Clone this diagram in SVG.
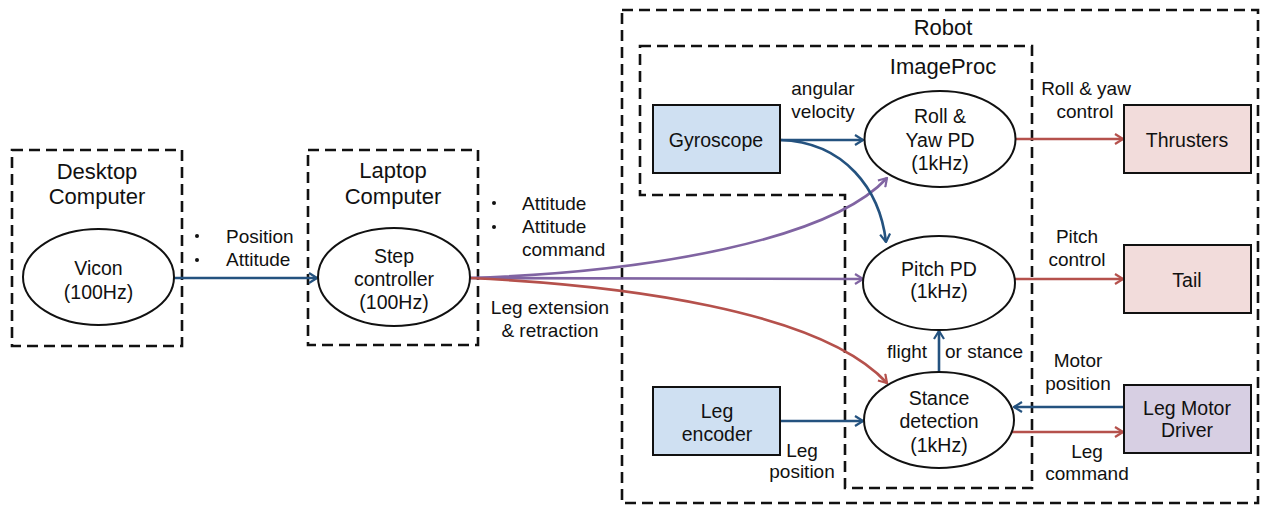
<svg xmlns="http://www.w3.org/2000/svg" width="1267" height="506" viewBox="0 0 1267 506">
<style>
text{font-family:"Liberation Sans",Arial,sans-serif;fill:#111;text-anchor:middle}
.t{font-size:22px}
.n{font-size:19.5px}
.l{font-size:19px}
.st{text-anchor:start}
.dash{fill:none;stroke:#111;stroke-width:2.6;stroke-dasharray:11 6}
.ell{fill:#fff;stroke:#111;stroke-width:2}
.box{stroke:#111;stroke-width:2}
.b{fill:none;stroke:#24527f;stroke-width:2.6}
.r{fill:none;stroke:#b5514c;stroke-width:2.6}
.p{fill:none;stroke:#8064a2;stroke-width:2.6}
</style>
<defs>
<marker id="mb" viewBox="0 0 10 12" refX="9" refY="6" markerWidth="10" markerHeight="12" markerUnits="userSpaceOnUse" orient="auto"><path d="M1,1 L9,6 L1,11" fill="none" stroke="#24527f" stroke-width="2.2"/></marker>
<marker id="mr" viewBox="0 0 10 12" refX="9" refY="6" markerWidth="10" markerHeight="12" markerUnits="userSpaceOnUse" orient="auto"><path d="M1,1 L9,6 L1,11" fill="none" stroke="#b5514c" stroke-width="2.2"/></marker>
<marker id="mp" viewBox="0 0 10 12" refX="9" refY="6" markerWidth="10" markerHeight="12" markerUnits="userSpaceOnUse" orient="auto"><path d="M1,1 L9,6 L1,11" fill="none" stroke="#8064a2" stroke-width="2.2"/></marker>
</defs>

<g id="robot">
<rect class="dash" x="622" y="10" width="636" height="493"/>
<text class="t" x="943" y="35">Robot</text>
</g>
<g id="imageproc">
<path class="dash" d="M640,46 H1032 V488 H845 V195 H640 Z"/>
<text class="t" x="943" y="74">ImageProc</text>
</g>
<g id="desktop">
<rect class="dash" x="12" y="150" width="170" height="196"/>
<text class="t" x="97" y="179">Desktop</text>
<text class="t" x="97" y="204">Computer</text>
</g>
<g id="laptop">
<rect class="dash" x="308" y="150" width="170" height="195"/>
<text class="t" x="393" y="178">Laptop</text>
<text class="t" x="393" y="204">Computer</text>
</g>

<g id="connectors">
<line class="b" x1="174" y1="278" x2="317" y2="278" marker-end="url(#mb)"/>
<path class="p" d="M470,278 C650,272 830,240 887,178" marker-end="url(#mp)"/>
<line class="p" x1="470" y1="278" x2="863" y2="279" marker-end="url(#mp)"/>
<path class="r" d="M470,278 C620,285 820,310 887,383" marker-end="url(#mr)"/>
<line class="b" x1="780" y1="140" x2="863" y2="140" marker-end="url(#mb)"/>
<path class="b" d="M780,140 C845,142 880,190 886,242" marker-end="url(#mb)"/>
<line class="r" x1="1015" y1="139" x2="1123" y2="139" marker-end="url(#mr)"/>
<line class="r" x1="1015" y1="279" x2="1123" y2="279" marker-end="url(#mr)"/>
<line class="b" x1="939" y1="372" x2="939" y2="331" marker-end="url(#mb)"/>
<line class="b" x1="780" y1="421" x2="863" y2="421" marker-end="url(#mb)"/>
<line class="b" x1="1124" y1="407" x2="1014" y2="407" marker-end="url(#mb)"/>
<line class="r" x1="1011" y1="432" x2="1123" y2="432" marker-end="url(#mr)"/>
<circle cx="197" cy="236" r="2" fill="#111"/>
<circle cx="197" cy="260" r="2" fill="#111"/>
<text class="l st" x="226" y="243">Position</text>
<text class="l st" x="226" y="266">Attitude</text>
<circle cx="494" cy="203" r="2" fill="#111"/>
<circle cx="494" cy="227" r="2" fill="#111"/>
<text class="l st" x="522" y="210">Attitude</text>
<text class="l st" x="522" y="233">Attitude</text>
<text class="l st" x="522" y="256">command</text>
<text class="l" x="550" y="314">Leg extension</text>
<text class="l" x="550" y="337">&amp; retraction</text>
<text class="l" x="823" y="95">angular</text>
<text class="l" x="823" y="118">velocity</text>
<text class="l" x="1086" y="95">Roll &amp; yaw</text>
<text class="l" x="1085" y="118">control</text>
<text class="l" x="1077" y="243">Pitch</text>
<text class="l" x="1077" y="266">control</text>
<text class="l" x="907" y="358">flight</text>
<text class="l st" x="945" y="358">or stance</text>
<text class="l" x="1078" y="367">Motor</text>
<text class="l" x="1078" y="390">position</text>
<text class="l" x="1087" y="458">Leg</text>
<text class="l" x="1087" y="480">command</text>
<text class="l" x="802" y="457">Leg</text>
<text class="l" x="802" y="478">position</text>
</g>

<g id="vicon">
<ellipse class="ell" cx="98.5" cy="277" rx="75.5" ry="48"/>
<text class="n" x="98.5" y="275">Vicon</text>
<text class="n" x="98.5" y="299">(100Hz)</text>
</g>
<g id="step">
<ellipse class="ell" cx="394" cy="277" rx="76" ry="49"/>
<text class="n" x="394" y="263">Step</text>
<text class="n" x="394" y="286">controller</text>
<text class="n" x="394" y="309">(100Hz)</text>
</g>
<g id="gyroscope">
<rect class="box" x="653" y="105" width="127" height="68" fill="#cfe0f2"/>
<text class="n" x="716" y="147">Gyroscope</text>
</g>
<g id="rollyaw">
<ellipse class="ell" cx="940" cy="139" rx="75.5" ry="48"/>
<text class="n" x="940" y="123">Roll &amp;</text>
<text class="n" x="940" y="147">Yaw PD</text>
<text class="n" x="940" y="170">(1kHz)</text>
</g>
<g id="pitch">
<ellipse class="ell" cx="939" cy="283" rx="76" ry="47"/>
<text class="n" x="939" y="276">Pitch PD</text>
<text class="n" x="939" y="298">(1kHz)</text>
</g>
<g id="stance">
<ellipse class="ell" cx="939" cy="420" rx="75" ry="48"/>
<text class="n" x="939" y="405">Stance</text>
<text class="n" x="939" y="428">detection</text>
<text class="n" x="939" y="452">(1kHz)</text>
</g>
<g id="legencoder">
<rect class="box" x="653" y="387" width="127" height="68" fill="#cfe0f2"/>
<text class="n" x="717" y="418">Leg</text>
<text class="n" x="717" y="441">encoder</text>
</g>
<g id="thrusters">
<rect class="box" x="1124" y="105" width="127" height="68" fill="#f2dcdb"/>
<text class="n" x="1187" y="147">Thrusters</text>
</g>
<g id="tail">
<rect class="box" x="1124" y="245" width="127" height="68" fill="#f2dcdb"/>
<text class="n" x="1187" y="287">Tail</text>
</g>
<g id="legmotor">
<rect class="box" x="1124" y="385" width="127" height="68" fill="#d7cfe3"/>
<text class="n" x="1187" y="415">Leg Motor</text>
<text class="n" x="1187" y="437">Driver</text>
</g>
</svg>
